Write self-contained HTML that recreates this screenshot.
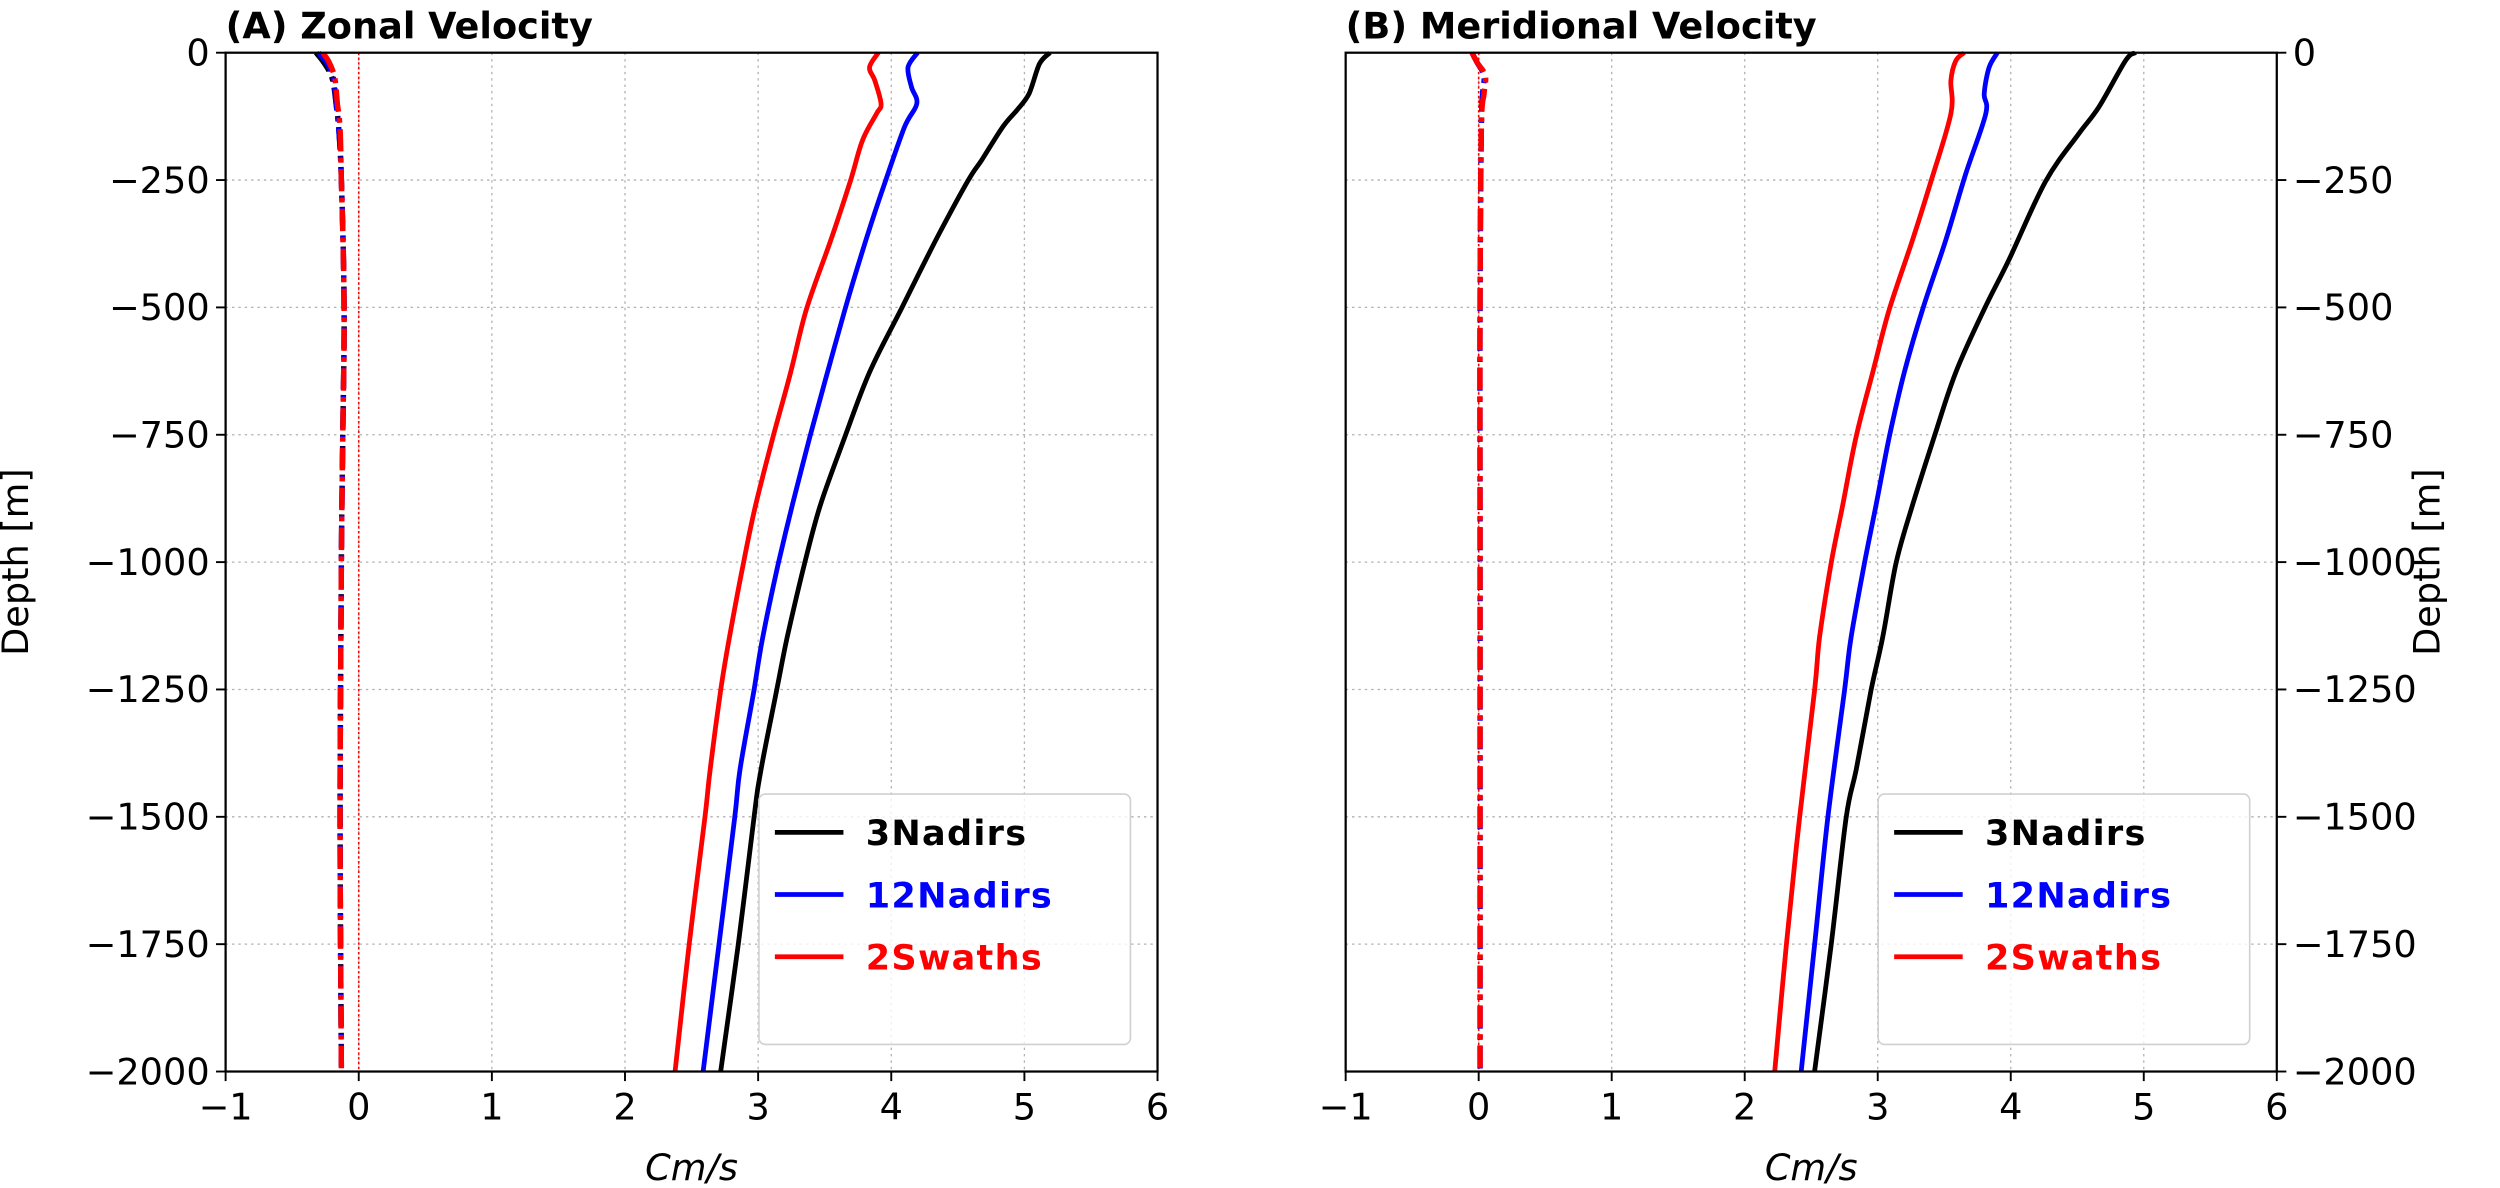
<!DOCTYPE html>
<html><head><meta charset="utf-8"><style>
html,body{margin:0;padding:0;background:#fff;}
svg{display:block;}
text{font-family:"DejaVu Sans","Liberation Sans",sans-serif;}
</style></head><body>
<svg id="s" width="2500" height="1188" viewBox="0 0 1568 745" xmlns="http://www.w3.org/2000/svg"></svg>
<script>
const s=document.getElementById('s');
let h='';
const T=33,B=672,ky=(B-T)/2000;
function Y(d){return T+d*ky;}
function smooth(pts){
  let d='M'+pts[0][0].toFixed(1)+','+pts[0][1].toFixed(1);
  for(let i=0;i<pts.length-1;i++){
    const p0=pts[Math.max(i-1,0)],p1=pts[i],p2=pts[i+1],p3=pts[Math.min(i+2,pts.length-1)];
    const c1=[p1[0]+(p2[0]-p0[0])/6,p1[1]+(p2[1]-p0[1])/6];
    const c2=[p2[0]-(p3[0]-p1[0])/6,p2[1]-(p3[1]-p1[1])/6];
    d+=` C${c1[0].toFixed(1)},${c1[1].toFixed(1)} ${c2[0].toFixed(1)},${c2[1].toFixed(1)} ${p2[0].toFixed(1)},${p2[1].toFixed(1)}`;
  }
  return d;
}
function panel(L,R,title,right,series,near){
  const kx=(R-L)/7, X=v=>L+(v+1)*kx;
  for(let v=-1;v<=6;v++){h+=`<line x1="${X(v)}" y1="${T}" x2="${X(v)}" y2="${B}" stroke="#b0b0b0" stroke-width="0.8" stroke-dasharray="1.5,2.5"/>`;}
  for(let d=0;d<=2000;d+=250){h+=`<line x1="${L}" y1="${Y(d)}" x2="${R}" y2="${Y(d)}" stroke="#b0b0b0" stroke-width="0.8" stroke-dasharray="1.5,2.5"/>`;}
  h+=`<line x1="${X(0)}" y1="${T}" x2="${X(0)}" y2="${B}" stroke="#f00" stroke-width="1" stroke-dasharray="1.5,1.5"/>`;
  near.forEach(n=>{
    h+=`<path fill="none" stroke="${n.c}" stroke-width="3.4" stroke-dasharray="14,4,3,4" d="${smooth(n.p.map(q=>[X(q[1]),Y(q[0])]))}"/>`;
  });
  series.forEach(sr=>{
    h+=`<path fill="none" stroke="${sr.c}" stroke-width="3" stroke-linejoin="round" d="${smooth(sr.p.map(q=>[X(q[1]),Y(q[0])]))}"/>`;
  });
  h+=`<rect x="${L}" y="${T}" width="${R-L}" height="${B-T}" fill="none" stroke="#000" stroke-width="1.4"/>`;
  for(let v=-1;v<=6;v++){h+=`<line x1="${X(v)}" y1="${B}" x2="${X(v)}" y2="${B+6}" stroke="#000" stroke-width="1.2"/>`;
    h+=`<text x="${X(v)}" y="${B+30}" font-size="23" text-anchor="middle">${v<0?'\u2212'+(-v):v}</text>`;}
  for(let d=0;d<=2000;d+=250){
    const lab=d==0?'0':'\u2212'+d;
    if(!right){h+=`<line x1="${L-6}" y1="${Y(d)}" x2="${L}" y2="${Y(d)}" stroke="#000" stroke-width="1.2"/>`;
      h+=`<text x="${L-10}" y="${Y(d)+8}" font-size="23" text-anchor="end">${lab}</text>`;}
    else{h+=`<line x1="${R}" y1="${Y(d)}" x2="${R+6}" y2="${Y(d)}" stroke="#000" stroke-width="1.2"/>`;
      h+=`<text x="${R+10}" y="${Y(d)+8}" font-size="23" text-anchor="start">${lab}</text>`;}
  }
  h+=`<text x="${(L+R)/2}" y="${B+68}" font-size="23" font-style="italic" text-anchor="middle">Cm/s</text>`;
  h+=`<text x="${L}" y="${T-9}" font-size="23" font-weight="bold">${title}</text>`;
  h+=`<text transform="translate(${right?R+102:L-124},${(T+B)/2}) rotate(-90)" font-size="23" text-anchor="middle">Depth [m]</text>`;
  const lx=R-250, ly=498;
  h+=`<rect x="${lx}" y="${ly}" width="233" height="157" rx="4" fill="#fff" fill-opacity="0.8" stroke="#d0d0d0" stroke-width="1"/>`;
  [['3Nadirs','#000'],['12Nadirs','#00f'],['2Swaths','#f00']].forEach((e,i)=>{
    const yy=ly+24+i*39;
    h+=`<line x1="${lx+10}" y1="${yy}" x2="${lx+53}" y2="${yy}" stroke="${e[1]}" stroke-width="3"/>`;
    h+=`<text x="${lx+67}" y="${yy+8}" font-size="22" font-weight="bold" letter-spacing="0.8" fill="${e[1]}">${e[0]}</text>`;
  });
}
function conv(a){return a.map(q=>[(q[0]-18)/1537*2000,3+(q[1]-385)/400]);}
function convA(a){return a.map(q=>[(q[0]-18)/1537*2000,2+(q[1]-72)/380]);}
panel(141.5,726,'(A) Zonal Velocity',false,[
 {c:'#f00',p:convA([[18,795],[40,770],[60,785],[95,803],[110,790],[150,750],[212,715],[300,660],[405,590],[500,545],[597,495],[700,445],[788,410],[900,370],[980,345],[1100,315],[1172,300],[1364,255],[1555,215]])},
 {c:'#00f',p:convA([[18,907],[40,880],[70,890],[95,905],[130,870],[212,815],[300,760],[405,700],[500,650],[597,600],[700,550],[788,510],[900,465],[980,440],[1100,400],[1172,385],[1364,340],[1555,295]])},
 {c:'#000',p:convA([[18,1285],[35,1255],[80,1225],[105,1190],[130,1150],[180,1090],[212,1050],[300,960],[405,860],[500,770],[597,700],[700,630],[788,585],[900,535],[980,505],[1100,460],[1172,440],[1364,395],[1555,345]])}
],[
 {c:'#000',p:[[0,-0.32],[20,-0.26],[50,-0.2],[100,-0.17],[150,-0.15],[250,-0.13],[500,-0.11],[750,-0.12],[1000,-0.13],[1500,-0.14],[2000,-0.13]]},
 {c:'#00f',p:[[0,-0.3],[20,-0.24],[50,-0.19],[100,-0.17],[150,-0.15],[250,-0.13],[500,-0.11],[750,-0.12],[1000,-0.13],[1500,-0.14],[2000,-0.13]]},
 {c:'#f00',p:[[0,-0.27],[20,-0.22],[50,-0.18],[100,-0.16],[150,-0.14],[250,-0.13],[500,-0.11],[750,-0.12],[1000,-0.13],[1500,-0.14],[2000,-0.13]]}
]);
panel(844,1428,'(B) Meridional Velocity',true,[
 {c:'#f00',p:conv([[18,645],[30,620],[60,605],[110,605],[212,545],[300,490],[405,420],[500,370],[597,320],[700,280],[788,245],[900,210],[980,195],[1172,150],[1364,110],[1555,75]])},
 {c:'#00f',p:conv([[18,745],[40,720],[80,705],[110,710],[200,650],[300,590],[405,520],[500,465],[597,420],[700,380],[788,345],[900,305],[980,285],[1172,235],[1364,195],[1555,155]])},
 {c:'#000',p:conv([[18,1160],[30,1130],[100,1050],[140,990],[212,890],[330,780],[405,705],[500,620],[597,555],[700,490],[788,440],[900,400],[980,365],[1100,320],[1172,290],[1364,245],[1555,195]])}
],[
 {c:'#00f',p:[[0,-0.05],[20,-0.01],[45,0.04],[80,0.03],[150,0.02],[500,0.01],[1000,0.01],[2000,0.01]]},
 {c:'#f00',p:[[0,-0.05],[20,-0.01],[45,0.05],[80,0.04],[150,0.02],[500,0.01],[1000,0.01],[2000,0.01]]}
]);
s.innerHTML=h;
</script>
</body></html>
